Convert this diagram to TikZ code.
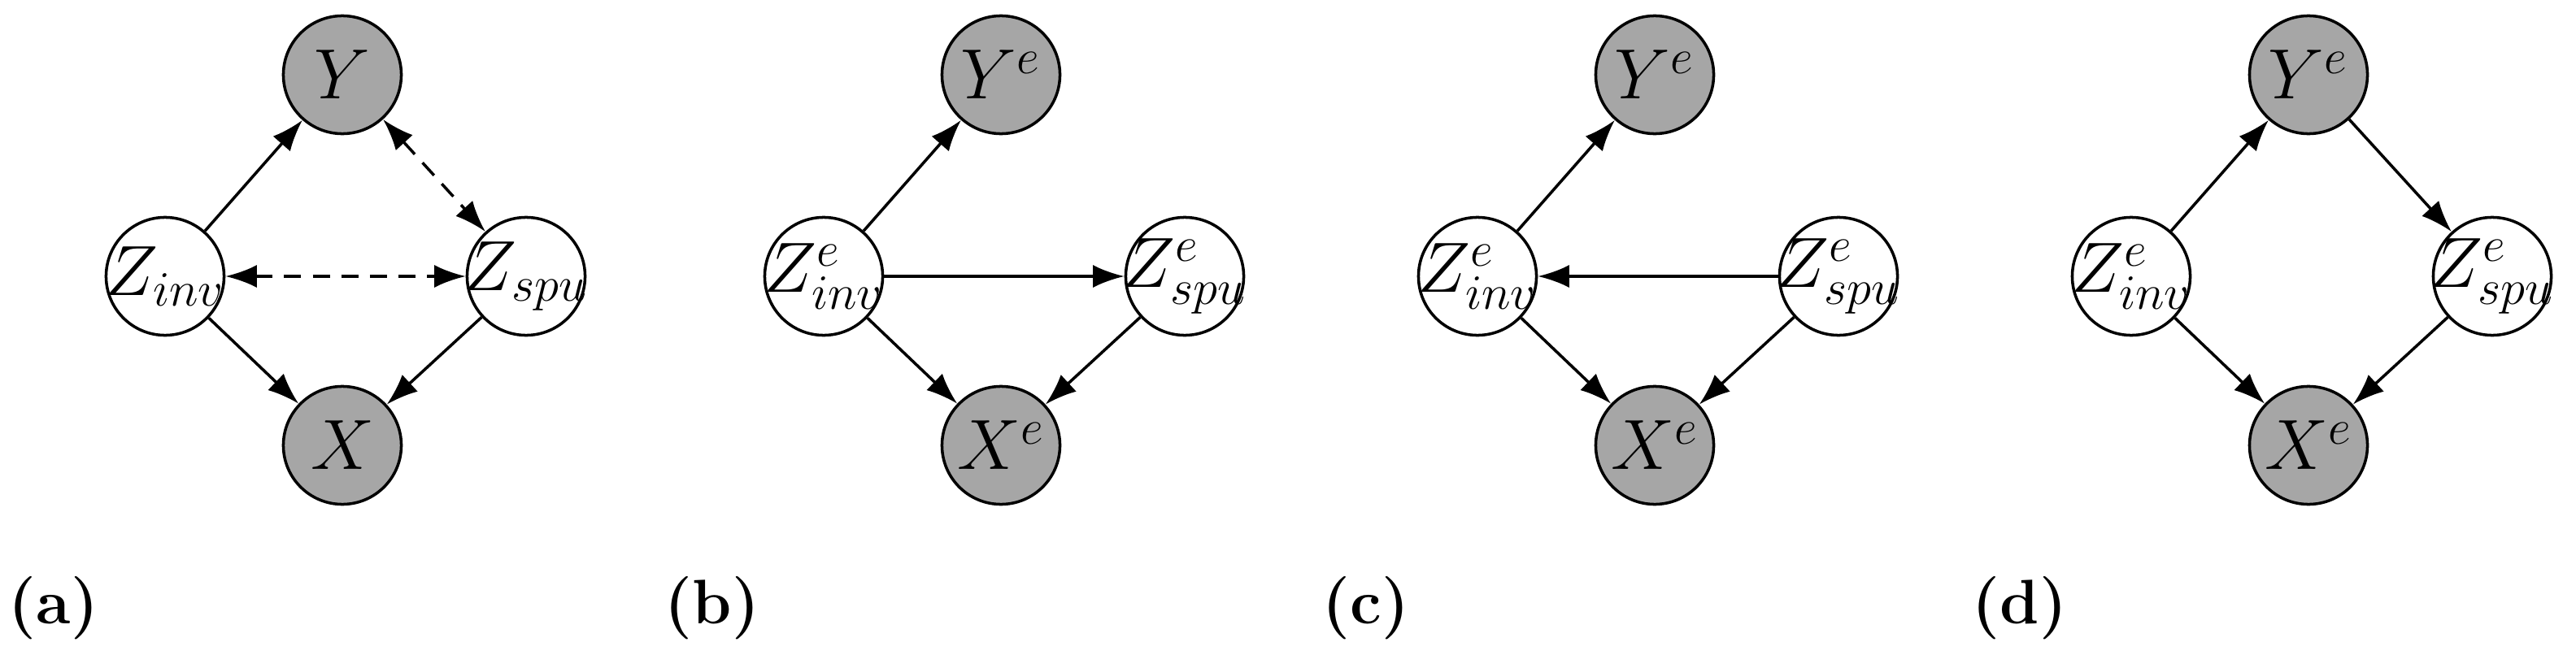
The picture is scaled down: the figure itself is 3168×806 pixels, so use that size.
\documentclass[tikz,border=0pt]{standalone}
\usetikzlibrary{arrows.meta}
\newcommand{\zb}[1]{\makebox[0pt]{#1}}
\begin{document}
\begin{tikzpicture}[x=0.01cm,y=-0.01cm,
  nd/.style={circle,draw,line width=1pt,minimum size=1.45cm,inner sep=0pt,font=\fontsize{24}{28}\selectfont},
  obs/.style={nd,fill=black!35},
  lat/.style={nd,fill=white},
  ar/.style={-{Latex[length=11pt,width=8pt]},line width=1pt},
  dar/.style={{Latex[length=11pt,width=8pt]}-{Latex[length=11pt,width=8pt]},line width=1pt,dash pattern=on 6pt off 4pt},
  lab/.style={font=\fontsize{22}{26}\selectfont\bfseries}]
\useasboundingbox (0,0) rectangle (3168,806);
% (a)
\node[obs] (aY) at (421,92) {$Y$};
\node[obs] (aX) at (421,548) {$X$};
\node[lat] (aI) at (203,340) {\zb{$Z_{inv}$}};
\node[lat] (aS) at (647,340) {\zb{$Z_{spu}$}};
\draw[ar] (aI) -- (aY);
\draw[ar] (aI) -- (aX);
\draw[ar] (aS) -- (aX);
\draw[dar] (aI) -- (aS);
\draw[dar] (aY) -- (aS);
\node[lab] (la) at (66,748) {(a)};
% (b)
\begin{scope}[xshift=810*0.01cm]
\node[obs] (bY) at (421,92) {$Y^e$};
\node[obs] (bX) at (421,548) {$X^e$};
\node[lat] (bI) at (203,340) {\zb{$Z^e_{inv}$}};
\node[lat] (bS) at (647,340) {\zb{$Z^e_{spu}$}};
\draw[ar] (bI) -- (bY);
\draw[ar] (bI) -- (bX);
\draw[ar] (bS) -- (bX);
\draw[ar] (bI) -- (bS);
\node[lab] (lb) at (66,748) {(b)};
\end{scope}
% (c)
\begin{scope}[xshift=1614*0.01cm]
\node[obs] (cY) at (421,92) {$Y^e$};
\node[obs] (cX) at (421,548) {$X^e$};
\node[lat] (cI) at (203,340) {\zb{$Z^e_{inv}$}};
\node[lat] (cS) at (647,340) {\zb{$Z^e_{spu}$}};
\draw[ar] (cI) -- (cY);
\draw[ar] (cI) -- (cX);
\draw[ar] (cS) -- (cX);
\draw[ar] (cS) -- (cI);
\node[lab] (lc) at (66,748) {(c)};
\end{scope}
% (d)
\begin{scope}[xshift=2418*0.01cm]
\node[obs] (dY) at (421,92) {$Y^e$};
\node[obs] (dX) at (421,548) {$X^e$};
\node[lat] (dI) at (203,340) {\zb{$Z^e_{inv}$}};
\node[lat] (dS) at (647,340) {\zb{$Z^e_{spu}$}};
\draw[ar] (dI) -- (dY);
\draw[ar] (dI) -- (dX);
\draw[ar] (dS) -- (dX);
\draw[ar] (dY) -- (dS);
\node[lab] (ld) at (66,748) {(d)};
\end{scope}
\end{tikzpicture}
\end{document}
